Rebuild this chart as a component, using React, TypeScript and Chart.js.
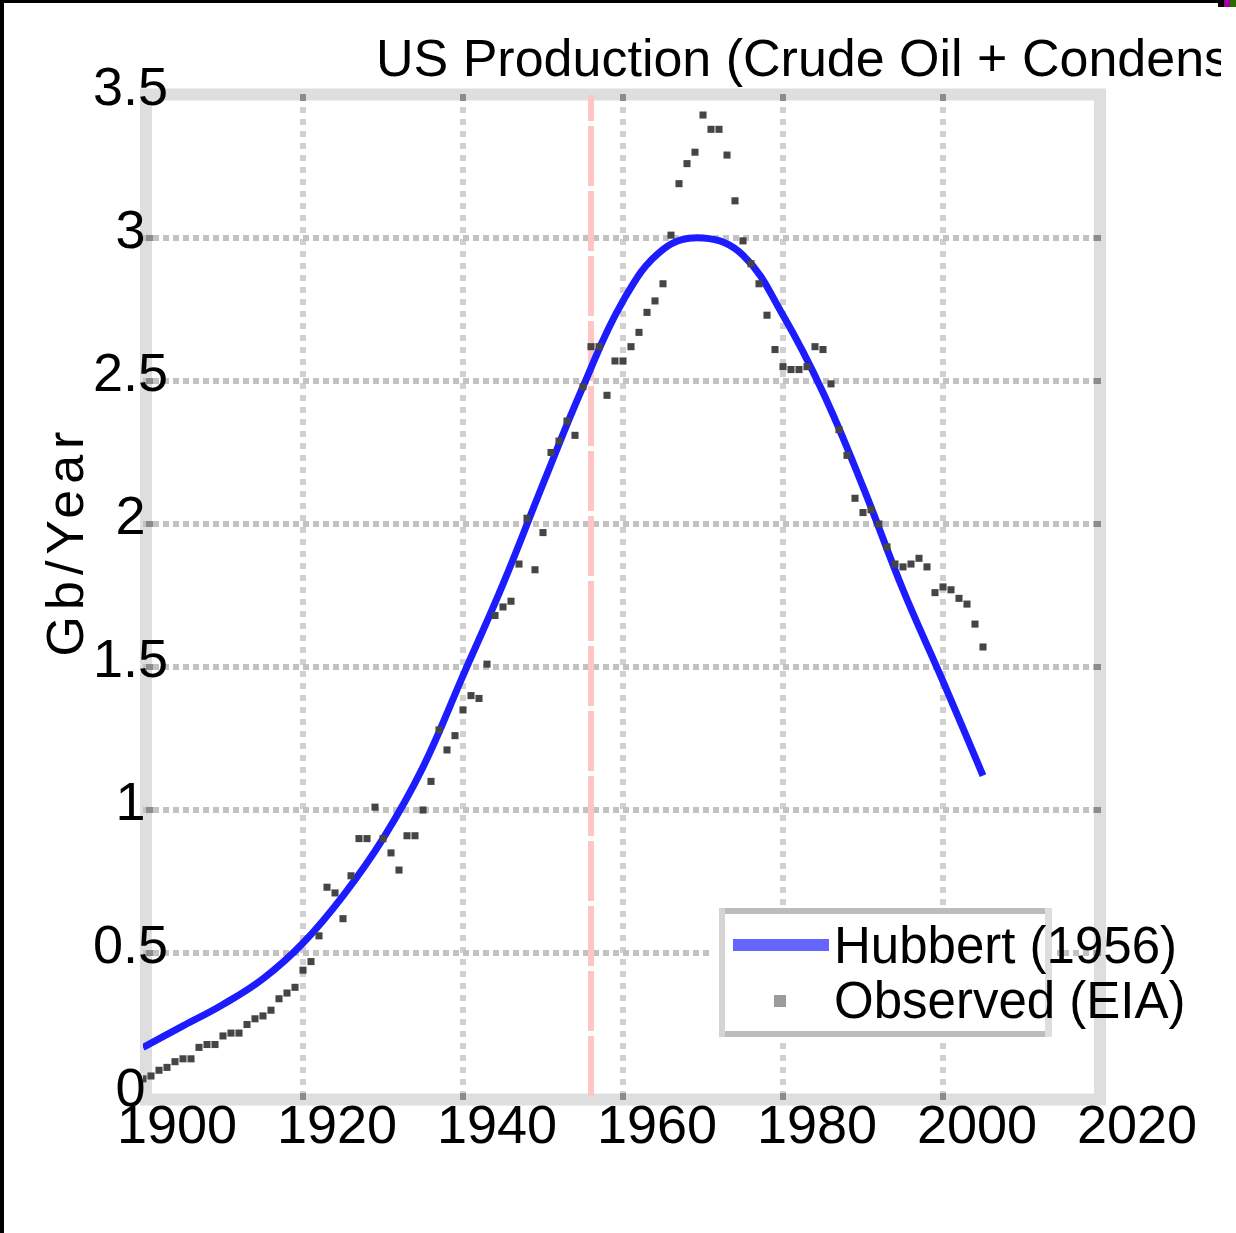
import React, { useEffect, useRef } from 'react';
import { Chart, registerables } from 'chart.js';

Chart.register(...registerables);

const FONT = "'Liberation Sans', Arial, Helvetica, sans-serif";

const titleText = 'US Production (Crude Oil + Condensate)';
const yAxisTitle = 'Gb/Year';

const xTickValues = [1900, 1920, 1940, 1960, 1980, 2000, 2020];
const xTickLabels = ['1900', '1920', '1940', '1960', '1980', '2000', '2020'];
const yTickValues = [0, 0.5, 1, 1.5, 2, 2.5, 3, 3.5];
const yTickLabels = ['0', '0.5', '1', '1.5', '2', '2.5', '3', '3.5'];

const hubbertLabel = 'Hubbert (1956)';
const hubbertYears = [
  1900, 1905, 1910, 1915, 1920, 1925, 1930, 1935, 1940, 1945, 1950,
  1955, 1960, 1965, 1970, 1975, 1980, 1985, 1990, 1995, 2000, 2005,
];
const hubbertValues = [
  0.17, 0.245, 0.32, 0.41, 0.535, 0.7, 0.9, 1.15, 1.47, 1.79, 2.14,
  2.48, 2.78, 2.96, 3.0, 2.94, 2.73, 2.46, 2.13, 1.77, 1.45, 1.12,
];

const observedLabel = 'Observed (EIA)';
const observedYears = [
  1900, 1901, 1902, 1903, 1904, 1905, 1906, 1907, 1908, 1909,
  1910, 1911, 1912, 1913, 1914, 1915, 1916, 1917, 1918, 1919,
  1920, 1921, 1922, 1923, 1924, 1925, 1926, 1927, 1928, 1929,
  1930, 1931, 1932, 1933, 1934, 1935, 1936, 1937, 1938, 1939,
  1940, 1941, 1942, 1943, 1944, 1945, 1946, 1947, 1948, 1949,
  1950, 1951, 1952, 1953, 1954, 1955, 1956, 1957, 1958, 1959,
  1960, 1961, 1962, 1963, 1964, 1965, 1966, 1967, 1968, 1969,
  1970, 1971, 1972, 1973, 1974, 1975, 1976, 1977, 1978, 1979,
  1980, 1981, 1982, 1983, 1984, 1985, 1986, 1987, 1988, 1989,
  1990, 1991, 1992, 1993, 1994, 1995, 1996, 1997, 1998, 1999,
  2000, 2001, 2002, 2003, 2004, 2005,
];
const observedValues = [
  0.06, 0.07, 0.09, 0.1, 0.12, 0.13, 0.13, 0.17, 0.18, 0.18,
  0.21, 0.22, 0.22, 0.25, 0.27, 0.28, 0.3, 0.34, 0.36, 0.38,
  0.44, 0.47, 0.56, 0.73, 0.71, 0.62, 0.77, 0.9, 0.9, 1.01,
  0.9, 0.85, 0.79, 0.91, 0.91, 1.0, 1.1, 1.28, 1.21, 1.26,
  1.35, 1.4, 1.39, 1.51, 1.68, 1.71, 1.73, 1.86, 2.02, 1.84,
  1.97, 2.25, 2.29, 2.36, 2.31, 2.48, 2.62, 2.62, 2.45, 2.57,
  2.57, 2.62, 2.67, 2.74, 2.78, 2.84, 3.01, 3.19, 3.26, 3.3,
  3.43, 3.38, 3.38, 3.29, 3.13, 2.99, 2.91, 2.84, 2.73, 2.61,
  2.55, 2.54, 2.54, 2.55, 2.62, 2.61, 2.49, 2.33, 2.24, 2.09,
  2.04, 2.05, 2.0, 1.92, 1.86, 1.85, 1.86, 1.88, 1.85, 1.76,
  1.78, 1.77, 1.74, 1.72, 1.65, 1.57,
];

const markerLabel = 'Hubbert forecast year (1956)';
const markerYears = [1956, 1956];
const markerValues = [0, 3.5];

const W = 1236;
const H = 1233;

const decorPlugin = {
  id: 'decor',
  beforeDraw(chart: any) {
    const { ctx } = chart;
    ctx.save();
    ctx.strokeStyle = '#dedede';
    ctx.lineWidth = 12;
    ctx.strokeRect(146, 94.5, 954, 1005);
    ctx.restore();
  },
  beforeDatasetsDraw(chart: any) {
    const { ctx } = chart;
    const xs = chart.scales.x;
    const ys = chart.scales.y;
    ctx.save();
    ctx.fillStyle = '#8c8c8c';
    xTickValues.forEach((v, i) => {
      if (i === 0 || i === xTickValues.length - 1) return;
      const px = Math.round(xs.getPixelForValue(v));
      ctx.fillRect(px - 3, 94, 6, 7);
      ctx.fillRect(px - 3, 1093, 6, 7);
    });
    yTickValues.forEach((v, i) => {
      if (i === 0 || i === yTickValues.length - 1) return;
      const py = Math.round(ys.getPixelForValue(v));
      ctx.fillRect(146, py - 3, 7, 6);
      ctx.fillRect(1094, py - 3, 7, 6);
    });
    ctx.restore();
  },
  afterDraw(chart: any) {
    const { ctx } = chart;
    // Title (clipped like the reference)
    ctx.save();
    ctx.beginPath();
    ctx.rect(0, 0, 1221, H);
    ctx.clip();
    ctx.fillStyle = '#000';
    ctx.font = `52px ${FONT}`;
    ctx.textAlign = 'left';
    ctx.textBaseline = 'alphabetic';
    ctx.fillText(titleText, 376, 76);
    ctx.restore();

    // Y axis title
    ctx.save();
    ctx.fillStyle = '#000';
    ctx.font = `52px ${FONT}`;
    try { (ctx as any).letterSpacing = '6px'; } catch (e) {}
    ctx.translate(83, 541);
    ctx.rotate(-Math.PI / 2);
    ctx.textAlign = 'center';
    ctx.textBaseline = 'alphabetic';
    ctx.fillText(yAxisTitle, 0, 0);
    ctx.restore();

    // Legend
    const ds = chart.data.datasets;
    ctx.save();
    ctx.fillStyle = '#ffffff';
    ctx.fillRect(713, 908, 344, 129);
    ctx.fillStyle = '#bcbcbc';
    ctx.fillRect(719, 908, 333, 6);
    ctx.fillRect(719, 1031, 333, 6);
    ctx.fillStyle = '#d4d4d4';
    ctx.fillRect(719, 908, 6, 129);
    ctx.fillStyle = '#dedede';
    ctx.fillRect(1045, 908, 7, 129);
    ctx.fillStyle = '#6666ff';
    ctx.fillRect(733, 939, 96, 12);
    ctx.fillStyle = '#9c9c9c';
    ctx.fillRect(774, 995, 12, 12);
    ctx.fillStyle = '#000';
    ctx.font = `51px ${FONT}`;
    ctx.textAlign = 'left';
    ctx.textBaseline = 'alphabetic';
    ctx.fillText(ds[0].label, 834, 963);
    ctx.fillText(ds[1].label, 834, 1018);
    ctx.restore();
  },
};

export default function App() {
  const canvasRef = useRef<HTMLCanvasElement | null>(null);

  useEffect(() => {
    const canvas = canvasRef.current;
    if (!canvas) return;
    const gridColor = (edgeCount: number, c: string) => (ctx: any) =>
      ctx.index === 0 || ctx.index === edgeCount - 1 ? 'rgba(0,0,0,0)' : c;

    const chart = new Chart(canvas, {
      type: 'line',
      data: {
        datasets: [
          {
            label: hubbertLabel,
            data: hubbertYears.map((x, i) => ({ x, y: hubbertValues[i] })),
            borderColor: '#1c1cff',
            backgroundColor: '#1c1cff',
            borderWidth: 7,
            pointRadius: 0,
            tension: 0.4,
            fill: false,
            order: 2,
          },
          {
            label: observedLabel,
            data: observedYears.map((x, i) => ({ x, y: observedValues[i] })),
            showLine: false,
            pointStyle: 'rect',
            pointRadius: 5,
            pointBorderWidth: 0,
            backgroundColor: '#454545',
            borderColor: '#454545',
            order: 1,
          },
          {
            label: markerLabel,
            data: markerYears.map((x, i) => ({ x, y: markerValues[i] })),
            borderColor: '#ffc4c4',
            borderWidth: 6,
            borderDash: [60, 5],
            pointRadius: 0,
            fill: false,
            order: 3,
          },
        ],
      } as any,
      options: {
        responsive: false,
        animation: false,
        devicePixelRatio: 1,
        events: [],
        layout: { padding: { top: 95, right: 133, left: 0, bottom: 0 } },
        plugins: {
          legend: { display: false },
          title: { display: false },
          tooltip: { enabled: false },
        },
        scales: {
          x: {
            type: 'linear',
            min: 1900,
            max: 2020,
            afterBuildTicks: (s: any) => {
              s.ticks = xTickValues.map((v) => ({ value: v }));
            },
            afterFit: (s: any) => {
              s.height = 137;
            },
            ticks: {
              callback: (_v: any, i: number) => xTickLabels[i],
              font: { family: FONT, size: 54 },
              color: '#000',
              padding: 0,
              labelOffset: 34,
              maxRotation: 0,
              autoSkip: false,
            },
            grid: {
              color: gridColor(xTickValues.length, '#d0d0d0'),
              lineWidth: 6,
              drawTicks: false,
            },
            border: { display: false, dash: [6, 6] },
          },
          y: {
            type: 'linear',
            min: 0,
            max: 3.5,
            afterBuildTicks: (s: any) => {
              s.ticks = yTickValues.map((v) => ({ value: v }));
            },
            afterFit: (s: any) => {
              s.width = 143;
            },
            ticks: {
              callback: (_v: any, i: number) => yTickLabels[i],
              font: { family: FONT, size: 54 },
              color: '#000',
              mirror: true,
              padding: -50,
              crossAlign: 'center',
              labelOffset: -5,
              autoSkip: false,
            },
            grid: {
              color: gridColor(yTickValues.length, '#c2c2c2'),
              lineWidth: 6,
              drawTicks: false,
            },
            border: { display: false, dash: [6, 4] },
          },
        },
      } as any,
      plugins: [decorPlugin],
    });
    return () => chart.destroy();
  }, []);

  return (
    <div
      style={{
        position: 'fixed',
        left: 0,
        top: 0,
        width: W,
        height: H,
        background: '#ffffff',
        overflow: 'hidden',
      }}
    >
      <canvas
        ref={canvasRef}
        width={W}
        height={H}
        style={{ width: W, height: H, display: 'block' }}
      />
      <div style={{ position: 'absolute', left: 0, top: 0, width: W, height: 3, background: '#000' }} />
      <div style={{ position: 'absolute', left: 0, top: 0, width: 4, height: H, background: '#000' }} />
      <div style={{ position: 'absolute', left: 1218, top: 0, width: 6, height: 7, background: '#000' }} />
      <div style={{ position: 'absolute', left: 1224, top: 0, width: 6, height: 7, background: '#a0009a' }} />
      <div style={{ position: 'absolute', left: 1230, top: 0, width: 6, height: 7, background: '#2b6b00' }} />
    </div>
  );
}
